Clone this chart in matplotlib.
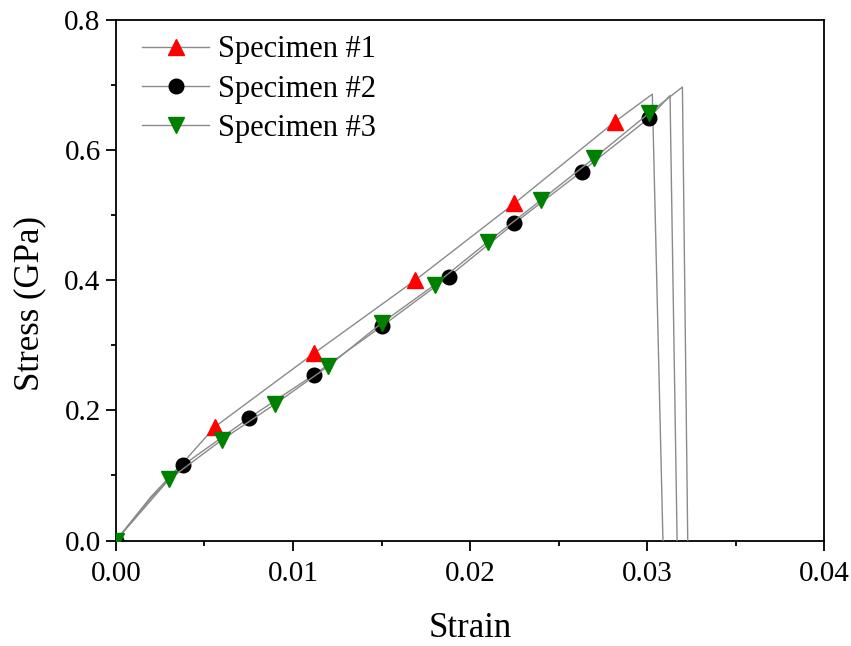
import numpy as np
import matplotlib
matplotlib.use("Agg")
import matplotlib.pyplot as plt
from matplotlib.ticker import MultipleLocator

plt.rcParams['font.family'] = ['Liberation Serif', 'DejaVu Serif']

# data (strain, stress in GPa)
strain_1 = [0, 0.0020, 0.0038, 0.0056, 0.0112, 0.0169, 0.0225, 0.0282, 0.0303, 0.0309]
stress_1 = [0, 0.068, 0.120, 0.175, 0.288, 0.400, 0.518, 0.644, 0.686, 0.0]
marks_1 = [0, 3, 4, 5, 6, 7]

strain_2 = [0, 0.0020, 0.0038, 0.0075, 0.0112, 0.0150, 0.0188, 0.0225, 0.0263, 0.0301, 0.0313, 0.0317]
stress_2 = [0, 0.066, 0.116, 0.188, 0.255, 0.329, 0.4055, 0.4875, 0.567, 0.649, 0.684, 0.0]
marks_2 = [0, 2, 3, 4, 5, 6, 7, 8, 9]

strain_3 = [0, 0.0030, 0.0060, 0.0090, 0.0120, 0.0150, 0.0180, 0.0210, 0.0240, 0.0270, 0.0301, 0.0320, 0.0323]
stress_3 = [0, 0.094, 0.155, 0.210, 0.268, 0.334, 0.393, 0.459, 0.523, 0.5875, 0.6566, 0.697, 0.0]
marks_3 = [0, 1, 2, 3, 4, 5, 6, 7, 8, 9, 10]

labels = ['Specimen #1', 'Specimen #2', 'Specimen #3']

fig = plt.figure(figsize=(8.51, 6.46), dpi=100)
ax = fig.add_axes([0.1363, 0.1633, 0.8320, 0.8057])

line_col = '#8a8a8a'
ax.plot(strain_1, stress_1, color=line_col, lw=1.0, marker='^', ms=11.5,
        mfc='red', mec='red', markevery=marks_1, label=labels[0], zorder=3)
ax.plot(strain_2, stress_2, color=line_col, lw=1.0, marker='o', ms=10.5,
        mfc='black', mec='black', markevery=marks_2, label=labels[1], zorder=4)
ax.plot(strain_3, stress_3, color=line_col, lw=1.0, marker='v', ms=11.5,
        mfc='green', mec='green', markevery=marks_3, label=labels[2], zorder=5)

ax.set_xlim(0, 0.04)
ax.set_ylim(0, 0.8)
ax.xaxis.set_major_locator(MultipleLocator(0.01))
ax.xaxis.set_minor_locator(MultipleLocator(0.005))
ax.yaxis.set_major_locator(MultipleLocator(0.2))
ax.yaxis.set_minor_locator(MultipleLocator(0.1))
ax.xaxis.set_major_formatter(plt.FormatStrFormatter('%.2f'))
ax.yaxis.set_major_formatter(plt.FormatStrFormatter('%.1f'))

ax.tick_params(which='both', direction='out', top=False, right=False, width=1.3, labelsize=21)
ax.tick_params(which='major', length=7)
ax.tick_params(which='minor', length=3.5)
ax.tick_params(axis='x', which='major', pad=8)
ax.tick_params(axis='y', which='major', pad=4)
for s in ax.spines.values():
    s.set_linewidth(1.3)

ax.set_xlabel('Strain', fontsize=25)
ax.set_ylabel('Stress (GPa)', fontsize=25)
ax.xaxis.set_label_coords(0.5, -0.137)
ax.yaxis.set_label_coords(-0.098, 0.456)

ax.legend(loc='upper left', frameon=False, fontsize=22, handlelength=2.2,
          handletextpad=0.3, labelspacing=0.34, borderpad=0.5,
          borderaxespad=0, bbox_to_anchor=(0.015, 1.0))

fig.savefig('out.png', dpi=100)
